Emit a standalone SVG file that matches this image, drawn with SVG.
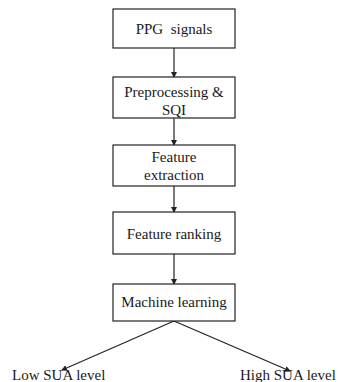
<svg xmlns="http://www.w3.org/2000/svg" width="339" height="382" viewBox="0 0 339 382">
<defs>
<marker id="ah" markerWidth="6" markerHeight="6" refX="5" refY="3" orient="auto" markerUnits="userSpaceOnUse">
<path d="M0,0 L6,3 L0,6 Z" fill="#222"/>
</marker>
<style>
.box{fill:#fff;stroke:#222;stroke-width:1.2}
.t{font-family:"Liberation Serif","Times New Roman",serif;font-size:15px;fill:#1a1a1a;text-anchor:middle}
.lbl{font-family:"Liberation Serif","Times New Roman",serif;font-size:15px;fill:#1a1a1a}
.c{stroke:#222;stroke-width:1.2;fill:none;marker-end:url(#ah)}
</style>
</defs>
<rect width="339" height="382" fill="#fff"/>
<g id="connectors">
<line class="c" x1="174" y1="48" x2="174" y2="77"/>
<line class="c" x1="174" y1="118" x2="174" y2="145"/>
<line class="c" x1="174" y1="186" x2="174" y2="212"/>
<line class="c" x1="174" y1="254" x2="174" y2="284"/>
<line class="c" x1="174" y1="321" x2="62" y2="370"/>
<line class="c" x1="174" y1="321" x2="290" y2="371"/>
</g>
<g id="ppg">
<rect class="box" x="113" y="9" width="122" height="39"/>
<text class="t" x="174" y="34" xml:space="preserve">PPG  signals</text>
</g>
<g id="preprocessing">
<rect class="box" x="113" y="77" width="122" height="41"/>
<text class="t" x="174" y="97">Preprocessing &amp;</text>
<text class="t" x="174" y="115">SQI</text>
</g>
<g id="extraction">
<rect class="box" x="113" y="145" width="122" height="41"/>
<text class="t" x="174" y="162">Feature</text>
<text class="t" x="174" y="180">extraction</text>
</g>
<g id="ranking">
<rect class="box" x="113" y="212" width="122" height="42"/>
<text class="t" x="174" y="239">Feature ranking</text>
</g>
<g id="ml">
<rect class="box" x="113" y="284" width="122" height="37"/>
<text class="t" x="174" y="307">Machine learning</text>
</g>
<g id="low">
<text class="lbl" x="12" y="380">Low SUA level</text>
</g>
<g id="high">
<text class="lbl" x="240" y="380">High SUA level</text>
</g>
</svg>
